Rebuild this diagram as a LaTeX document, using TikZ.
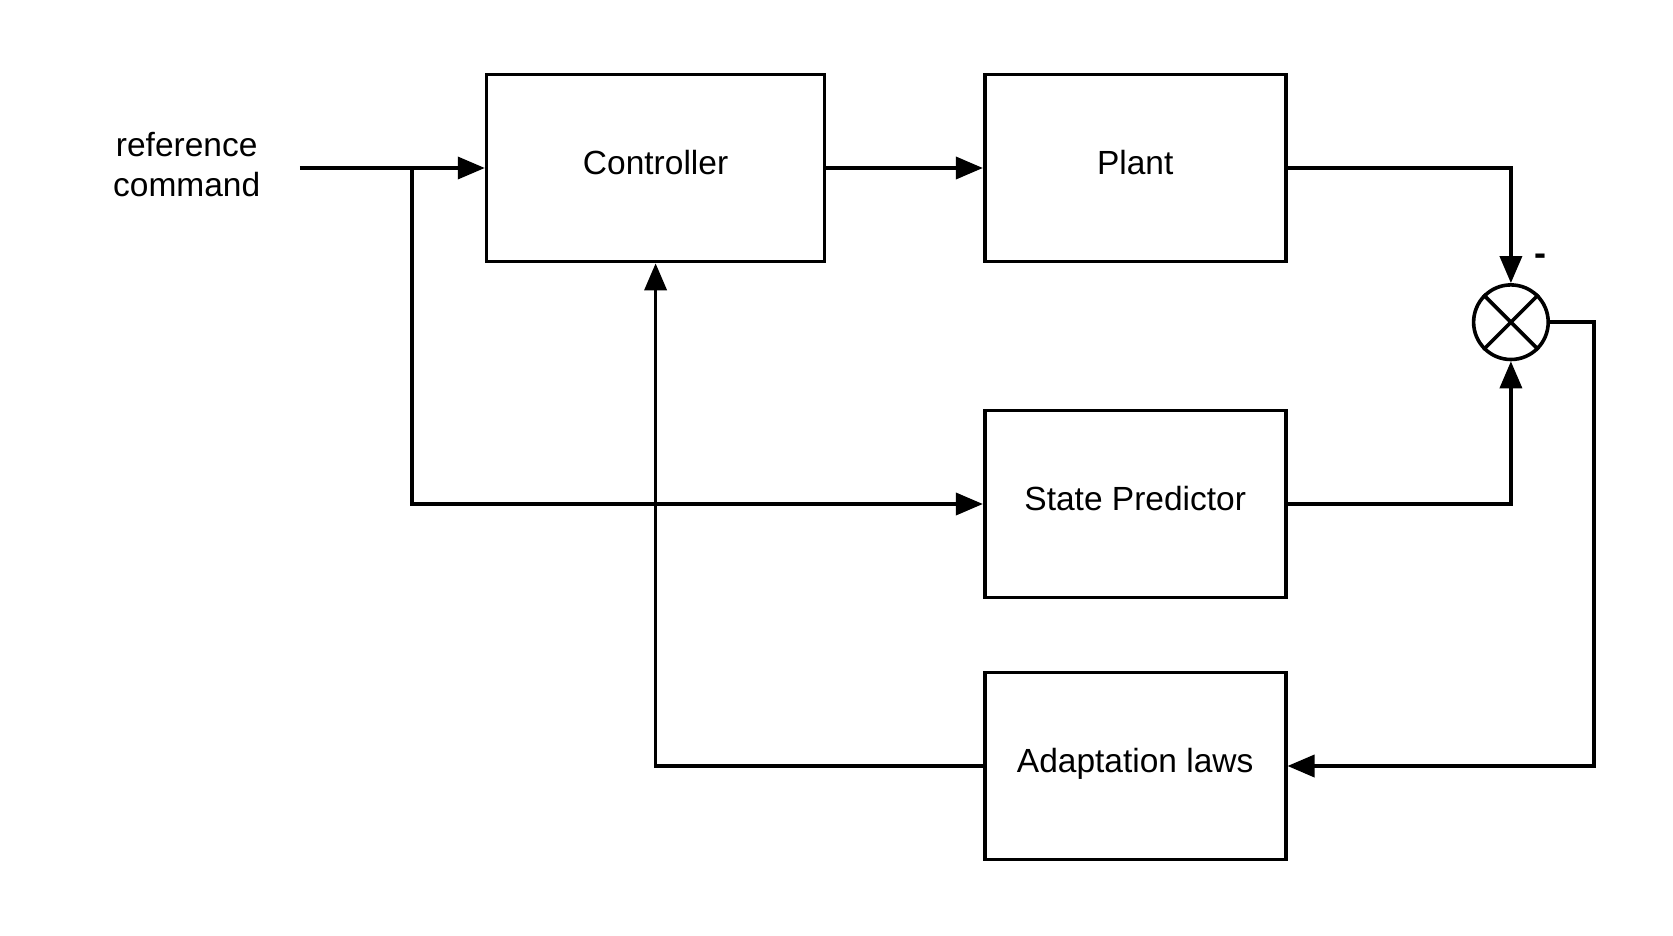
\documentclass[tikz,border=0pt]{standalone}
\usepackage{fontspec}
\setmainfont{Liberation Sans}
\usetikzlibrary{arrows.meta}
\begin{document}
\begin{tikzpicture}[x=1pt,y=-1pt,
  blk/.style={draw,line width=3.6pt,minimum width=#1,minimum height=187pt,inner sep=0pt,text height=24pt,text depth=11pt,font=\fontsize{33.5}{40}\selectfont},
  wire/.style={line width=3.6pt},
  arr/.style={wire,-{Triangle[length=27pt,width=22pt]}},
  lbl/.style={font=\fontsize{33.5}{40.5}\selectfont,align=center}]
\useasboundingbox (0,0) rectangle (1673,936);
\node[blk=338pt] (ctrl) at (655.6,168) {Controller};
\node[blk=301pt] (plant) at (1135.2,168) {Plant};
\node[blk=301pt] (pred) at (1135.2,504) {State Predictor};
\node[blk=301pt] (adapt) at (1135.2,766) {Adaptation laws};
\node[draw,circle,line width=3.6pt,minimum size=74.6pt,inner sep=0pt] (sum) at (1510.9,322.2) {};
\draw[line width=3.6pt] (sum.north west) -- (sum.south east) (sum.north east) -- (sum.south west);
\node[lbl] (ref) at (186.7,164.3) {reference\\command};
\node[lbl,font=\fontsize{36}{40}\selectfont\bfseries] (minus) at (1540,260) {-};
\coordinate (in) at (299.8,168);
\coordinate (br) at (411.9,168);
\draw[arr] (in) -- (ctrl.west);
\draw[arr] (br) |- (pred.west);
\draw[arr] (ctrl.east) -- (plant.west);
\draw[arr] (plant.east) -| (sum.north);
\draw[arr] (pred.east) -| (sum.south);
\coordinate (rt) at (1594,766);
\draw[arr] (sum.east) -| (rt) -- (adapt.east);
\draw[arr] (adapt.west) -| (ctrl.south);
\end{tikzpicture}
\end{document}
